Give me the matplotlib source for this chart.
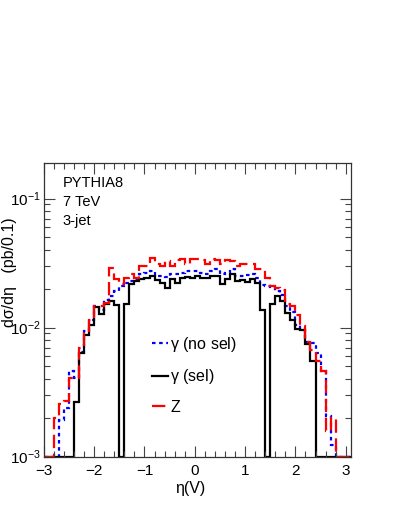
import numpy as np
import matplotlib
matplotlib.use("Agg")
import matplotlib.pyplot as plt
from matplotlib.ticker import LogLocator, MultipleLocator, NullFormatter

plt.rcParams["font.family"] = ["Liberation Sans", "DejaVu Sans"]
plt.rcParams["mathtext.fontset"] = "custom"
plt.rcParams["mathtext.rm"] = "Liberation Sans"
plt.rcParams["mathtext.it"] = "Liberation Sans:italic"
plt.rcParams["mathtext.default"] = "regular"

# eta(V) bins, width 0.1, from -3.0 to 3.1
edges = np.round(np.linspace(-3.0, 3.1, 62), 2)

# gamma, no selection (blue dotted)
gamma_nosel = [
    0, 0, 0, 0.00193, 0.0024, 0.0046, 0.0041, 0.0065, 0.0094, 0.0115,
    0.0147, 0.0138, 0.0165, 0.0175, 0.0191, 0.0209, 0.0222, 0.0229, 0.0236, 0.0258,
    0.0266, 0.0274, 0.0251, 0.0251, 0.0246, 0.0258, 0.0258, 0.0266, 0.0274, 0.0274,
    0.0274, 0.0266, 0.0261, 0.0274, 0.0282, 0.0258, 0.0266, 0.0282, 0.0251, 0.0251,
    0.0255, 0.0258, 0.0243, 0.0213, 0.0209, 0.0206, 0.0191, 0.0180, 0.0147, 0.0132,
    0.0105, 0.0095, 0.0078, 0.0076, 0.0064, 0.0046, 0.00205, 0.00123, 0, 0, 0,
]

# gamma, with selection (black solid)
gamma_sel = [
    0, 0, 0, 0, 0, 0, 0.00264, 0.0064, 0.0088, 0.0105,
    0.0144, 0.0128, 0.0151, 0.0162, 0.0149, 0, 0.0151, 0.0216, 0.0229, 0.0236,
    0.0243, 0.0251, 0.0232, 0.0222, 0.0203, 0.0236, 0.0222, 0.0243, 0.0246, 0.0243,
    0.0251, 0.0243, 0.0243, 0.0251, 0.0251, 0.0218, 0.0236, 0.0258, 0.0229, 0.0232,
    0.0226, 0.0239, 0.0222, 0.0136, 0, 0.0151, 0.0175, 0.0160, 0.0130, 0.0115,
    0.0098, 0.0095, 0.0074, 0.0055, 0, 0, 0, 0, 0, 0, 0,
]

# Z (red dashed)
z_boson = [
    0, 0, 0.0020, 0.00257, 0.0027, 0.0041, 0.0041, 0.0070, 0.0090, 0.0115,
    0.0147, 0.0147, 0.0156, 0.0291, 0.0236, 0.0216, 0.0243, 0.0258, 0.0243, 0.0300,
    0.0300, 0.0347, 0.0309, 0.0300, 0.0328, 0.0300, 0.0332, 0.0342, 0.0313, 0.0338,
    0.0338, 0.0332, 0.0313, 0.0342, 0.0332, 0.0313, 0.0332, 0.0328, 0.0300, 0.0313,
    0.0313, 0.0313, 0.0286, 0.0282, 0.0243, 0.0210, 0.0201, 0.0197, 0.0151, 0.0147,
    0.0125, 0.0102, 0.0078, 0.0067, 0.0055, 0.0046, 0.00158, 0.0020, 0, 0, 0,
]

YMIN, YMAX = 1e-3, 0.19

fig = plt.figure(figsize=(3.99, 5.16), dpi=100)
ax = fig.add_axes([0.110, 0.115, 0.769, 0.570])

# empty bins drawn on the bottom edge, as ROOT does
def floor(v):
    return np.clip(np.asarray(v, dtype=float), YMIN, None)

ax.stairs(floor(gamma_nosel), edges, baseline=None, color="blue", lw=1.6,
          linestyle=(0, (1.6, 1.6)), label=r"$\gamma$ (no sel)")
ax.stairs(floor(gamma_sel), edges, baseline=None, color="black", lw=1.6,
          linestyle="-", label=r"$\gamma$ (sel)")
ax.stairs(floor(z_boson), edges, baseline=None, color="red", lw=1.6,
          linestyle=(0, (6, 2.5)), label="Z")

ax.set_yscale("log")
ax.set_xlim(-3.0, 3.1)
ax.set_ylim(YMIN, YMAX)

ax.xaxis.set_major_locator(MultipleLocator(1))
ax.xaxis.set_minor_locator(MultipleLocator(0.2))
ax.yaxis.set_major_locator(LogLocator(base=10))
ax.yaxis.set_minor_locator(LogLocator(base=10, subs=np.arange(2, 10)))
ax.yaxis.set_minor_formatter(NullFormatter())
ax.tick_params(which="both", direction="in", top=True, right=True,
               labelsize=11, width=0.8, color="#444444")
ax.tick_params(which="major", length=8)
ax.tick_params(which="minor", length=4)
ax.tick_params(axis="x", pad=5)
ax.tick_params(axis="y", pad=2)
for sp in ax.spines.values():
    sp.set_linewidth(0.9)
    sp.set_color("#333333")

# labels
fig.text(0.024, 0.472, "dσ/dη   (pb/0.1)", rotation=90, ha="center",
         va="center", fontsize=11.5)
fig.text(0.476, 0.054, "η(V)", ha="center", va="center", fontsize=11.5)

for y, s in zip([0.931, 0.866, 0.801], ["PYTHIA8", "7 TeV", "3-jet"]):
    ax.text(0.062, y, s, transform=ax.transAxes, ha="left", va="center",
            fontsize=10.5)

ax.legend(loc="upper left", bbox_to_anchor=(0.352, 0.415), frameon=False,
          fontsize=11.5, handlelength=1.0, handletextpad=0.15, borderpad=0,
          borderaxespad=0, labelspacing=0.85)

fig.savefig("out.png", dpi=100)
